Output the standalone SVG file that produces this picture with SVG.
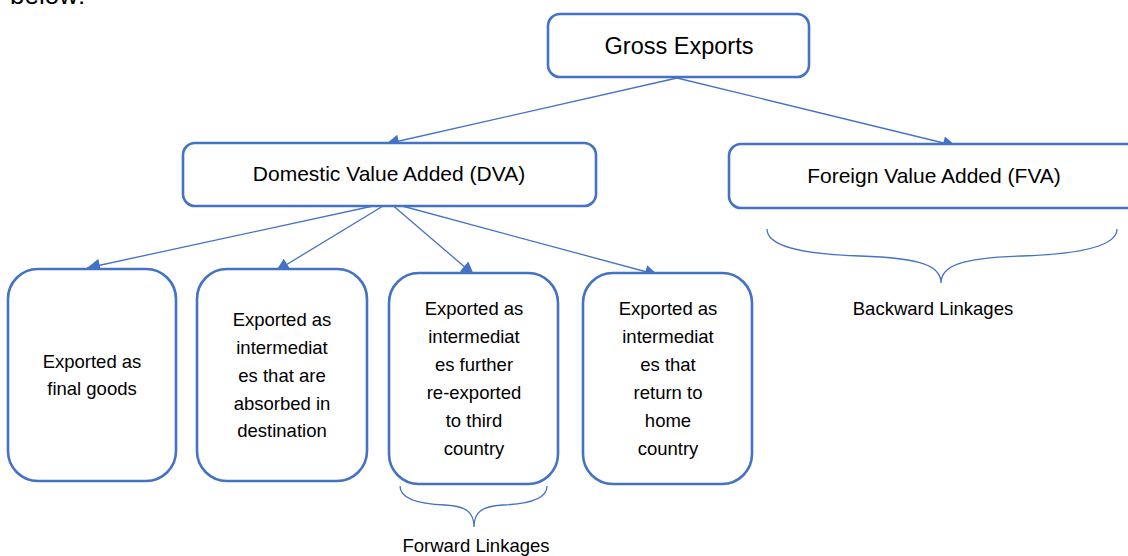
<svg xmlns="http://www.w3.org/2000/svg" width="1128" height="556" viewBox="0 0 1128 556">
<defs>
<style>
.box{fill:#fff;stroke:#4472C4;stroke-width:2.6}
.t{font-family:"Liberation Sans",Arial,sans-serif;fill:#000;text-anchor:middle}
.c{stroke:#4472C4;stroke-width:1.3;fill:none}
.br{stroke:#4472C4;stroke-width:1.3;fill:none}
</style>
<marker id="ah" viewBox="0 0 10 10" refX="10" refY="5" markerWidth="16" markerHeight="13" orient="auto" markerUnits="userSpaceOnUse">
<path d="M0,0 L10,5 L0,10 z" fill="#4472C4"/>
</marker>
</defs>
<rect width="1128" height="556" fill="#fff"/>
<text x="10" y="4" font-family="Liberation Sans,Arial,sans-serif" font-size="26" fill="#000">below:</text>

<g id="connectors">
<line class="c" x1="677" y1="78" x2="386" y2="144" marker-end="url(#ah)"/>
<line class="c" x1="677" y1="78" x2="956" y2="146" marker-end="url(#ah)"/>
<line class="c" x1="387" y1="203" x2="87" y2="268" marker-end="url(#ah)"/>
<line class="c" x1="388" y1="203" x2="276" y2="271" marker-end="url(#ah)"/>
<line class="c" x1="390" y1="203" x2="474" y2="275" marker-end="url(#ah)"/>
<line class="c" x1="391" y1="203" x2="658" y2="275" marker-end="url(#ah)"/>
</g>

<g id="gross-exports">
<rect class="box" x="548" y="14" width="261" height="63" rx="12"/>
<text class="t" x="679" y="54" font-size="23.5">Gross Exports</text>
</g>

<g id="dva">
<rect class="box" x="183" y="143" width="413" height="63" rx="12"/>
<text class="t" x="389" y="181" font-size="21">Domestic Value Added (DVA)</text>
</g>

<g id="fva">
<rect class="box" x="729" y="144" width="430" height="64" rx="12"/>
<text class="t" x="934" y="183" font-size="21">Foreign Value Added (FVA)</text>
</g>

<g id="final-goods">
<rect class="box" x="8" y="269" width="168" height="212" rx="30"/>
<text class="t" font-size="18.5"><tspan x="92" y="368">Exported as</tspan><tspan x="92" y="395">final goods</tspan></text>
</g>

<g id="absorbed">
<rect class="box" x="197" y="269" width="170" height="212" rx="30"/>
<text class="t" font-size="18.5"><tspan x="282" y="326">Exported as</tspan><tspan x="282" y="354">intermediat</tspan><tspan x="282" y="382">es that are</tspan><tspan x="282" y="410">absorbed in</tspan><tspan x="282" y="437">destination</tspan></text>
</g>

<g id="re-exported">
<rect class="box" x="389" y="273" width="169" height="211" rx="30"/>
<text class="t" font-size="18.5"><tspan x="474" y="315">Exported as</tspan><tspan x="474" y="343">intermediat</tspan><tspan x="474" y="371">es further</tspan><tspan x="474" y="399">re-exported</tspan><tspan x="474" y="427">to third</tspan><tspan x="474" y="455">country</tspan></text>
</g>

<g id="return-home">
<rect class="box" x="583" y="273" width="169" height="211" rx="30"/>
<text class="t" font-size="18.5"><tspan x="668" y="315">Exported as</tspan><tspan x="668" y="343">intermediat</tspan><tspan x="668" y="371">es that</tspan><tspan x="668" y="399">return to</tspan><tspan x="668" y="427">home</tspan><tspan x="668" y="455">country</tspan></text>
</g>

<g id="backward-linkages">
<path class="br" d="M767,229 C767,246 800,254 860,256 C922,258 941,266 941,283 C941,266 960,258 1022,256 C1082,254 1117,246 1117,229"/>
<text class="t" x="933" y="315" font-size="18.5">Backward Linkages</text>
</g>

<g id="forward-linkages">
<path class="br" d="M400,486 C400,499 418,504 445,505 C466,506 474,512 474,527 C474,512 482,506 503,505 C530,504 547,499 547,486"/>
<text class="t" x="476" y="552" font-size="18.5">Forward Linkages</text>
</g>
</svg>
